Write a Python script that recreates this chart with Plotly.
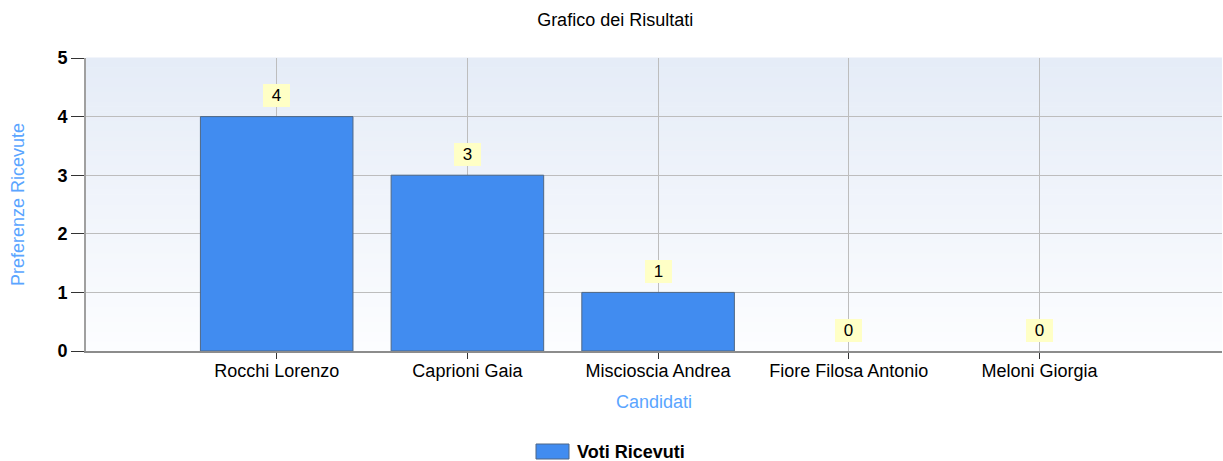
import plotly.graph_objects as go

# ---- data ----
candidati = ["Rocchi Lorenzo", "Caprioni Gaia", "Miscioscia Andrea", "Fiore Filosa Antonio", "Meloni Giorgia"]
voti = [4, 3, 1, 0, 0]
series_name = "Voti Ricevuti"
chart_title = "Grafico dei Risultati"
x_title = "Candidati"
y_title = "Preferenze Ricevute"

W, H = 1223, 461
ML, MR, MT, MB = 86, 1, 58, 110
PW, PH = W - ML - MR, H - MT - MB

FONT = "Liberation Sans, Arial, sans-serif"

fig = go.Figure()
fig.add_trace(go.Bar(
    x=candidati, y=voti, name=series_name, width=0.8,
    marker=dict(color="#418CF0",
                line=dict(color="#4F6785", width=[1 if v > 0 else 0 for v in voti])),
    showlegend=False,
))

# data labels
for c, v in zip(candidati, voti):
    fig.add_annotation(x=c, y=v, xref="x", yref="y", text=str(v), showarrow=False,
                       yshift=21, bgcolor="#FFFFC6", borderwidth=0, borderpad=2,
                       width=23, height=19,
                       font=dict(family=FONT, size=17, color="#000000"))

# gradient plot background
N = 60
top = (229, 236, 247)
bot = (252, 253, 255)
for i in range(N):
    t = i / (N - 1)
    col = tuple(round(bot[k] + (top[k] - bot[k]) * t) for k in range(3))
    fig.add_shape(type="rect", xref="paper", yref="paper",
                  x0=0, x1=1, y0=i / N, y1=(i + 1) / N + 0.002,
                  fillcolor="rgb(%d,%d,%d)" % col, line=dict(width=0), layer="below")

# manual legend
def px_x(p):
    return (p - ML) / PW

def px_y(p):
    return (H - MB - p) / PH

fig.add_shape(type="rect", xref="paper", yref="paper",
              x0=px_x(536), x1=px_x(569), y0=px_y(459), y1=px_y(444),
              fillcolor="#418CF0", line=dict(color="#4F6785", width=1))
fig.add_annotation(xref="paper", yref="paper", x=px_x(575), y=px_y(452),
                   xanchor="left", yanchor="middle", showarrow=False,
                   text="<b>%s</b>" % series_name,
                   font=dict(family=FONT, size=18, color="#000000"))

fig.update_layout(
    width=W, height=H,
    margin=dict(l=ML, r=MR, t=MT, b=MB),
    paper_bgcolor="white", plot_bgcolor="white",
    title=dict(text=chart_title, x=0.503, xanchor="center", y=1 - 20 / H, yanchor="middle",
               font=dict(family=FONT, size=18, color="#000000")),
    font=dict(family=FONT, size=18, color="#000000"),
    bargap=0.2,
)

fig.update_xaxes(
    type="category", range=[-1, 4.957],
    showline=True, linecolor="#8C8C8C", linewidth=2,
    ticks="outside", ticklen=6, tickcolor="#333333", tickwidth=1,
    ticklabelstandoff=-4,
    showgrid=True, gridcolor="#BDBDBD", gridwidth=1,
    tickfont=dict(family=FONT, size=18, color="#000000"),
    title=dict(text=x_title, font=dict(family=FONT, size=18, color="#5AA5FF"), standoff=16),
    fixedrange=True,
)
fig.update_yaxes(
    range=[0, 5], dtick=1, tick0=0,
    showline=True, linecolor="#A0A0A0", linewidth=2,
    ticks="outside", ticklen=13, tickcolor="#333333", tickwidth=1,
    showgrid=True, gridcolor="#BDBDBD", gridwidth=1, zeroline=False,
    tickfont=dict(family=FONT, size=18, color="#000000", weight="bold"),
    title=dict(text=y_title, font=dict(family=FONT, size=18, color="#5AA5FF"), standoff=28),
    fixedrange=True,
)

fig.write_html("out.html", config={"displayModeBar": False},
               post_script="document.body.style.margin='0px';document.body.style.overflow='hidden';")
